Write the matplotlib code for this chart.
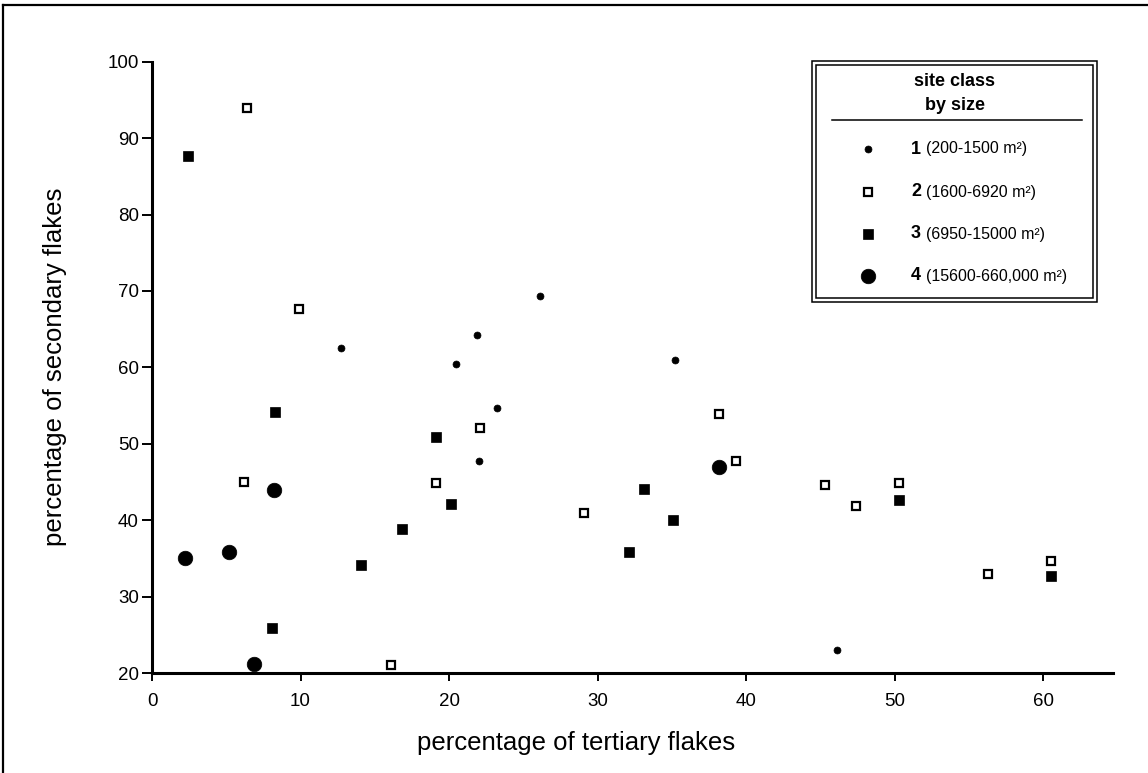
import matplotlib
matplotlib.use("Agg")
import matplotlib.pyplot as plt
from matplotlib.lines import Line2D
from matplotlib.patches import Rectangle

plt.rcParams['font.family'] = ['Liberation Sans', 'DejaVu Sans']

# percentage of tertiary (x) and secondary (y) flakes per site, by site-size class
class1_x = [12.7, 20.5, 21.9, 22.0, 23.2, 26.1, 35.2, 46.1]
class1_y = [62.5, 60.4, 64.2, 47.8, 54.7, 69.3, 61.0, 23.0]

class2_x = [6.4, 9.9, 6.2, 16.1, 19.1, 22.1, 29.1, 38.2, 39.3, 45.3, 47.4, 50.3, 56.3, 60.5]
class2_y = [94.0, 67.7, 45.0, 21.0, 44.8, 52.1, 40.9, 53.9, 47.7, 44.6, 41.9, 44.8, 33.0, 34.7]

class3_x = [2.4, 8.3, 8.1, 14.1, 16.8, 19.1, 20.1, 32.1, 33.1, 35.1, 50.3, 60.5]
class3_y = [87.7, 54.2, 25.9, 34.1, 38.8, 50.9, 42.1, 35.8, 44.1, 40.0, 42.6, 32.7]

class4_x = [2.2, 5.2, 8.2, 6.9, 38.2]
class4_y = [35.0, 35.9, 44.0, 21.2, 46.9]

class_numbers = ["1", "2", "3", "4"]
class_ranges = ["(200-1500 m\u00b2)", "(1600-6920 m\u00b2)",
                "(6950-15000 m\u00b2)", "(15600-660,000 m\u00b2)"]

x_ticks = [0, 10, 20, 30, 40, 50, 60]
y_ticks = [20, 30, 40, 50, 60, 70, 80, 90, 100]

W, H = 1148, 773
fig = plt.figure(figsize=(W / 100, H / 100), dpi=100)


def fx(px):
    return px / W


def fy(py):
    return 1 - py / H


ax = fig.add_axes([fx(152), fy(673), fx(1113) - fx(152), fy(61.7) - fy(673)])
ax.set_xlim(0, 64.7)
ax.set_ylim(20, 100)

# marker styles for the four classes
styles = [
    dict(marker='o', ms=5.0, mfc='black', mec='black', mew=0.5),
    dict(marker='s', ms=6.2, mfc='white', mec='black', mew=1.6),
    dict(marker='s', ms=7.2, mfc='black', mec='black', mew=0.5),
    dict(marker='o', ms=10.5, mfc='black', mec='black', mew=0.5),
]
series = [(class1_x, class1_y), (class2_x, class2_y),
          (class3_x, class3_y), (class4_x, class4_y)]
for (xs, ys), st in zip(series, styles):
    ax.plot(xs, ys, ls='none', clip_on=False, zorder=3, **st)

for side in ('top', 'right'):
    ax.spines[side].set_visible(False)
for side in ('left', 'bottom'):
    ax.spines[side].set_linewidth(2.2)

ax.set_xticks(x_ticks)
ax.set_yticks(y_ticks)
ax.tick_params(axis='x', direction='out', length=6, width=1.4, pad=8.5, labelsize=13.5)
ax.tick_params(axis='y', direction='out', length=7, width=1.4, pad=2.5, labelsize=13.5)

fig.text(fx(576), fy(743), "percentage of tertiary flakes", fontsize=18.5,
         ha='center', va='center')
fig.text(fx(55), fy(367), "percentage of secondary flakes", fontsize=18.5,
         ha='center', va='center', rotation=90)

# legend panel with double frame
outer = Rectangle((fx(812), fy(302)), fx(1097) - fx(812), fy(61) - fy(302),
                  transform=fig.transFigure, fill=False, lw=1.1, ec='black')
inner = Rectangle((fx(816), fy(298)), fx(1093) - fx(816), fy(65) - fy(298),
                  transform=fig.transFigure, fill=False, lw=1.1, ec='black')
fig.patches.extend([outer, inner])

fig.text(fx(955), fy(82), "site class", fontsize=13, fontweight='bold',
         ha='center', va='center')
fig.text(fx(955), fy(105), "by size", fontsize=13, fontweight='bold',
         ha='center', va='center')
fig.add_artist(Line2D([fx(832), fx(1082)], [fy(120), fy(120)], lw=1.1,
                      color='black', transform=fig.transFigure))

row_y = [149, 192, 234, 276]
for ry, num, rng, st in zip(row_y, class_numbers, class_ranges, styles):
    fig.add_artist(Line2D([fx(868)], [fy(ry)], ls='none',
                          transform=fig.transFigure, **st))
    fig.text(fx(916), fy(ry), num, fontsize=13, fontweight='bold',
             ha='center', va='center')
    fig.text(fx(926), fy(ry), rng, fontsize=11.5, ha='left', va='center')

# outer page frame
fig.add_artist(Line2D([fx(3), fx(3)], [fy(5), 0], lw=1.6, color='black',
                      transform=fig.transFigure))
fig.add_artist(Line2D([fx(3), 1], [fy(5), fy(5)], lw=1.6, color='black',
                      transform=fig.transFigure))

fig.savefig("out.png", dpi=100)
